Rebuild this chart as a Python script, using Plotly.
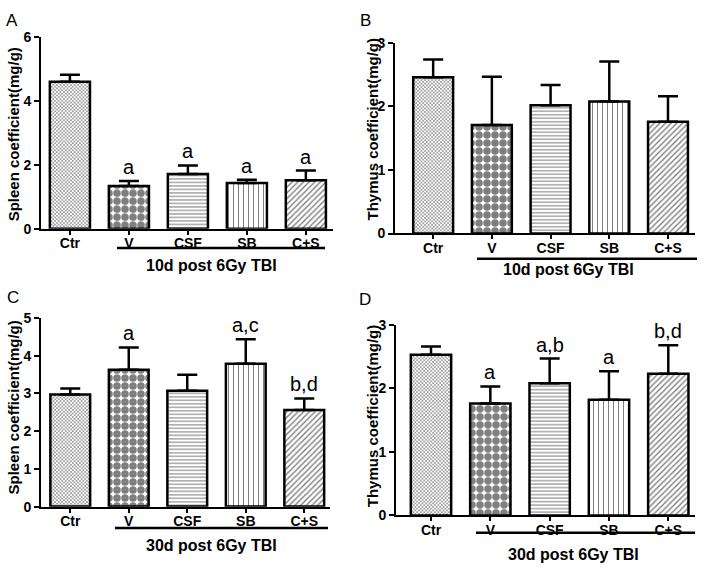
import plotly.graph_objects as go

categories = ["Ctr", "V", "CSF", "SB", "C+S"]

spleen_10d = [4.60, 1.34, 1.71, 1.43, 1.52]
spleen_10d_err = [0.22, 0.15, 0.27, 0.10, 0.30]
spleen_10d_sig = ["", "a", "a", "a", "a"]

thymus_10d = [2.46, 1.71, 2.02, 2.08, 1.76]
thymus_10d_err = [0.28, 0.76, 0.32, 0.63, 0.40]
thymus_10d_sig = ["", "", "", "", ""]

spleen_30d = [2.97, 3.63, 3.07, 3.79, 2.56]
spleen_30d_err = [0.16, 0.59, 0.43, 0.65, 0.31]
spleen_30d_sig = ["", "a", "", "a,c", "b,d"]

thymus_30d = [2.53, 1.76, 2.08, 1.82, 2.23]
thymus_30d_err = [0.13, 0.27, 0.39, 0.45, 0.45]
thymus_30d_sig = ["", "a", "a,b", "a", "b,d"]

W, H = 703, 571
FONT = "Liberation Sans, Arial, sans-serif"

pat_shape = ["x", ".", "-", "|", "/"]
pat_size = [2.5, 8, 3.5, 5, 4]
pat_sol = [0.5, 0.7, 0.3, 0.2, 0.35]
pat_fg = ["#222222", "black", "black", "black", "black"]


def px(x):
    return x / W


def py(y):
    return 1 - y / H


panels = [
    dict(letter="A", vals=spleen_10d, err=spleen_10d_err, sig=spleen_10d_sig,
         title="Spleen coefficient(mg/g)", ymax=6, dtick=2,
         xd=(41, 333), yd=(30, 227), xr=(-0.49, 4.46),
         letter_pos=(12, 13), title_pos=(13, 130),
         grp_line=(117, 325, 247), grp_label=(212, 265), group="10d post 6Gy TBI"),
    dict(letter="B", vals=thymus_10d, err=thymus_10d_err, sig=thymus_10d_sig,
         title="Thymus coefficient(mg/g)", ymax=3, dtick=1,
         xd=(395, 695), yd=(36, 232), xr=(-0.65, 4.46),
         letter_pos=(365, 13), title_pos=(372, 125),
         grp_line=(477, 697, 258), grp_label=(568, 269), group="10d post 6Gy TBI"),
    dict(letter="C", vals=spleen_30d, err=spleen_30d_err, sig=spleen_30d_sig,
         title="Spleen coefficient(mg/g)", ymax=5, dtick=1,
         xd=(41, 330), yd=(319, 513), xr=(-0.50, 4.44),
         letter_pos=(13, 298), title_pos=(13, 411),
         grp_line=(115, 328, 535), grp_label=(212, 553), group="30d post 6Gy TBI"),
    dict(letter="D", vals=thymus_30d, err=thymus_30d_err, sig=thymus_30d_sig,
         title="Thymus coefficient(mg/g)", ymax=3, dtick=1,
         xd=(396, 695), yd=(326, 522), xr=(-0.59, 4.45),
         letter_pos=(365, 300), title_pos=(372, 420),
         grp_line=(476, 695, 540), grp_label=(573, 562), group="30d post 6Gy TBI"),
]

fig = go.Figure()
layout = dict(
    width=W, height=H, margin=dict(l=0, r=0, t=0, b=0),
    paper_bgcolor="white", plot_bgcolor="white", showlegend=False,
    font=dict(family=FONT, color="black"),
    annotations=[], shapes=[],
)

for i, p in enumerate(panels):
    n = "" if i == 0 else str(i + 1)
    xa, ya = "x" + n, "y" + n
    fig.add_trace(go.Bar(
        x=categories, y=p["vals"], xaxis=xa, yaxis=ya, width=0.68,
        marker=dict(color="white", line=dict(color="black", width=2.5),
                    pattern=dict(shape=pat_shape, size=pat_size, solidity=pat_sol,
                                 fgcolor=pat_fg, bgcolor="white", fillmode="overlay")),
        error_y=dict(type="data", array=p["err"], arrayminus=[0] * 5, symmetric=False,
                     color="black", thickness=2.5, width=10),
        hoverinfo="skip",
    ))
    layout["xaxis" + n] = dict(
        domain=[px(p["xd"][0]), px(p["xd"][1])], anchor=ya,
        type="category", range=list(p["xr"]),
        showline=True, linecolor="black", linewidth=1.8,
        ticks="outside", ticklen=4, tickwidth=1.5, tickcolor="black",
        ticklabelstandoff=-3,
        tickfont=dict(family=FONT, size=14, color="black", weight="bold"),
        showgrid=False, zeroline=False, fixedrange=True,
    )
    layout["yaxis" + n] = dict(
        domain=[py(p["yd"][1]), py(p["yd"][0])], anchor=xa,
        range=[0, p["ymax"]], dtick=p["dtick"], tick0=0,
        showline=True, linecolor="black", linewidth=1.8,
        ticks="outside", ticklen=5, tickwidth=1.5, tickcolor="black",
        tickfont=dict(family=FONT, size=14, color="black", weight="bold"),
        showgrid=False, zeroline=False, fixedrange=True,
    )
    for c, v, e, s in zip(categories, p["vals"], p["err"], p["sig"]):
        if s:
            layout["annotations"].append(dict(
                x=c, y=v + e, xref=xa, yref=ya, text=s, showarrow=False,
                yanchor="bottom", yshift=1,
                font=dict(family=FONT, size=20, color="black")))
    layout["annotations"].append(dict(
        x=px(p["letter_pos"][0]), y=py(p["letter_pos"][1]), xref="paper", yref="paper",
        text=p["letter"], showarrow=False, xanchor="center", yanchor="middle",
        font=dict(family=FONT, size=17, color="black")))
    layout["annotations"].append(dict(
        x=px(p["title_pos"][0]), y=py(p["title_pos"][1]), xref="paper", yref="paper",
        text=p["title"], showarrow=False, textangle=-90, xanchor="center", yanchor="middle",
        font=dict(family=FONT, size=15, color="black", weight="bold")))
    x0, x1, yl = p["grp_line"]
    layout["shapes"].append(dict(
        type="line", xref="paper", yref="paper", x0=px(x0), x1=px(x1),
        y0=py(yl), y1=py(yl), line=dict(color="black", width=2.5)))
    layout["annotations"].append(dict(
        x=px(p["grp_label"][0]), y=py(p["grp_label"][1]), xref="paper", yref="paper",
        text=p["group"], showarrow=False, xanchor="center", yanchor="middle",
        font=dict(family=FONT, size=16, color="black", weight="bold")))

fig.update_layout(**layout)
# Remove the default 8px page margin so the 703x571 figure fills the window exactly.
fig.write_html(
    "out.html",
    config={"displayModeBar": False},
    post_script="document.body.style.margin='0';document.documentElement.style.overflow='hidden';",
)
